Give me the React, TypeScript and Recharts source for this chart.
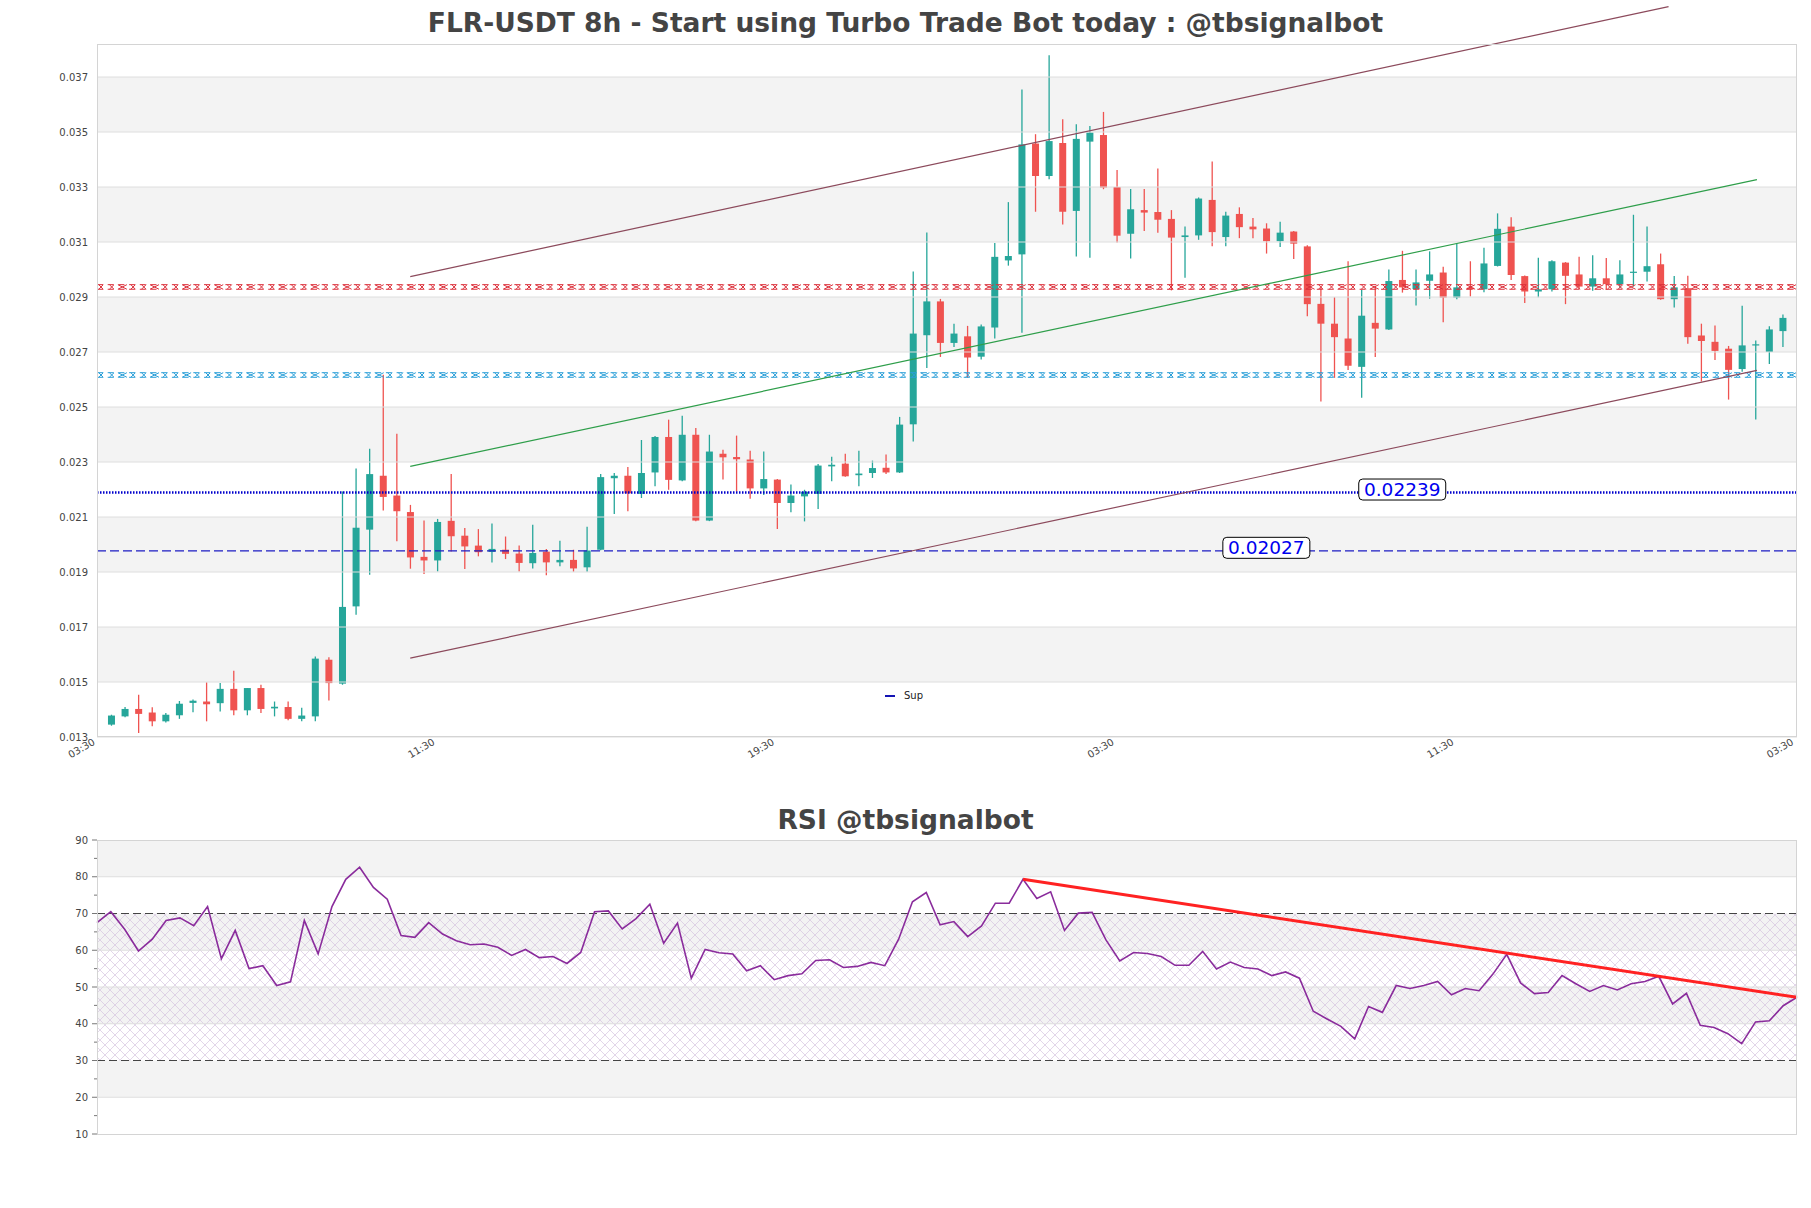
import React from 'react';
import {
  ComposedChart,
  Bar,
  Line,
  XAxis,
  YAxis,
  ReferenceLine,
  ReferenceArea,
  ReferenceDot,
} from 'recharts';

// ---- candles (8h) ----
const opens = [
  0.01395, 0.01425, 0.01452, 0.01439, 0.01407, 0.01429, 0.01474, 0.01479, 0.01473, 0.01525,
  0.01447, 0.01528, 0.01454, 0.01459, 0.01416, 0.01425, 0.01631, 0.01544, 0.01825, 0.02104,
  0.023, 0.02228, 0.02168, 0.02005, 0.01992, 0.02136, 0.02082, 0.02046, 0.02023, 0.02031,
  0.02017, 0.01982, 0.02024, 0.01985, 0.01994, 0.01967, 0.02031, 0.02291, 0.023, 0.02234,
  0.02312, 0.02441, 0.02283, 0.02449, 0.02137, 0.0238, 0.02368, 0.02359, 0.02254, 0.02286,
  0.02201, 0.02225, 0.02234, 0.02334, 0.02344, 0.02302, 0.0231, 0.02329, 0.02312, 0.02487,
  0.02811, 0.02934, 0.02783, 0.02807, 0.02733, 0.02839, 0.03083, 0.03105, 0.03508, 0.0339,
  0.0351, 0.03263, 0.03515, 0.03539, 0.0335, 0.0318, 0.03266, 0.03259, 0.03234, 0.03168,
  0.03174, 0.03303, 0.03168, 0.03252, 0.03206, 0.03199, 0.03153, 0.03188, 0.03134, 0.02925,
  0.02853, 0.02799, 0.02696, 0.02856, 0.02832, 0.03012, 0.02979, 0.03009, 0.03039, 0.02948,
  0.02984, 0.02978, 0.03063, 0.03206, 0.03026, 0.0297, 0.02978, 0.03075, 0.03032, 0.02988,
  0.03018, 0.02997, 0.03038, 0.03042, 0.03069, 0.02942, 0.02982, 0.0281, 0.02787, 0.02762,
  0.02688, 0.02774, 0.0275, 0.02826,
];
const highs = [
  0.01431, 0.01459, 0.01504, 0.01458, 0.01437, 0.01481, 0.01486, 0.01549, 0.01546, 0.01591,
  0.01528, 0.0154, 0.01479, 0.01479, 0.01456, 0.01643, 0.0164, 0.02243, 0.02326, 0.02398,
  0.02667, 0.02453, 0.02194, 0.02137, 0.02143, 0.02306, 0.0211, 0.02106, 0.02126, 0.02079,
  0.02046, 0.02122, 0.02034, 0.02064, 0.02031, 0.02115, 0.02306, 0.0231, 0.02332, 0.0243,
  0.02445, 0.02504, 0.02518, 0.02474, 0.02449, 0.02395, 0.02446, 0.02391, 0.02388, 0.02288,
  0.02268, 0.02249, 0.02343, 0.02369, 0.0238, 0.02391, 0.02355, 0.02377, 0.02514, 0.03043,
  0.03185, 0.02943, 0.02853, 0.02845, 0.0285, 0.03146, 0.03295, 0.03705, 0.03542, 0.03829,
  0.03596, 0.03578, 0.03572, 0.03623, 0.03412, 0.03343, 0.03343, 0.03417, 0.03266, 0.03206,
  0.03312, 0.03443, 0.0326, 0.03276, 0.03237, 0.03218, 0.03224, 0.0319, 0.03138, 0.02985,
  0.02949, 0.0308, 0.02976, 0.0299, 0.0305, 0.03118, 0.0305, 0.03116, 0.0306, 0.03144,
  0.0308, 0.03129, 0.03254, 0.0324, 0.03028, 0.03093, 0.03084, 0.03077, 0.03096, 0.03102,
  0.03092, 0.03084, 0.03249, 0.03206, 0.03108, 0.03026, 0.03027, 0.02853, 0.02846, 0.02772,
  0.02918, 0.02792, 0.02844, 0.02886,
];
const lows = [
  0.01391, 0.01422, 0.01365, 0.01389, 0.01403, 0.01416, 0.0144, 0.01407, 0.01443, 0.01429,
  0.01429, 0.01437, 0.01425, 0.01411, 0.01407, 0.01407, 0.01483, 0.0154, 0.01795, 0.0194,
  0.02174, 0.02062, 0.01962, 0.01943, 0.01952, 0.02025, 0.01961, 0.02007, 0.01985, 0.01997,
  0.01952, 0.01963, 0.01938, 0.01971, 0.01951, 0.01951, 0.02029, 0.02161, 0.02171, 0.02219,
  0.02262, 0.02249, 0.0228, 0.02135, 0.02135, 0.02286, 0.02243, 0.02216, 0.0223, 0.02106,
  0.02167, 0.02134, 0.02179, 0.0228, 0.02296, 0.02262, 0.02292, 0.02306, 0.0231, 0.02425,
  0.02692, 0.02732, 0.02768, 0.02657, 0.02723, 0.02799, 0.03064, 0.0282, 0.0326, 0.03378,
  0.03214, 0.03097, 0.03093, 0.03342, 0.03148, 0.0309, 0.0319, 0.03184, 0.02974, 0.0302,
  0.03158, 0.03135, 0.03135, 0.03164, 0.03164, 0.03108, 0.03132, 0.03088, 0.0288, 0.0257,
  0.02656, 0.02685, 0.02584, 0.02732, 0.0283, 0.02966, 0.02919, 0.02944, 0.02858, 0.02942,
  0.02952, 0.02967, 0.03061, 0.03012, 0.02928, 0.02949, 0.0297, 0.02924, 0.02979, 0.02973,
  0.02976, 0.02982, 0.02988, 0.03006, 0.0294, 0.02912, 0.0278, 0.02643, 0.02721, 0.02577,
  0.02678, 0.02505, 0.02706, 0.02768,
];
const closes = [
  0.01428, 0.01452, 0.01434, 0.01407, 0.01431, 0.01471, 0.01482, 0.01469, 0.01525, 0.01447,
  0.01528, 0.01452, 0.0146, 0.01416, 0.01428, 0.01635, 0.01546, 0.01823, 0.02111, 0.02306,
  0.02223, 0.02171, 0.02003, 0.01992, 0.02132, 0.0208, 0.02043, 0.02022, 0.02034, 0.02016,
  0.01983, 0.02019, 0.01985, 0.01994, 0.01963, 0.02028, 0.02295, 0.023, 0.02236, 0.0231,
  0.02441, 0.02285, 0.02449, 0.02137, 0.02388, 0.02367, 0.0236, 0.02254, 0.02288, 0.02201,
  0.02228, 0.02242, 0.02337, 0.0234, 0.02298, 0.02308, 0.02328, 0.02312, 0.02486, 0.02817,
  0.02934, 0.02783, 0.02817, 0.0273, 0.02843, 0.03096, 0.03099, 0.03505, 0.0339, 0.03517,
  0.0326, 0.03525, 0.03548, 0.03348, 0.03173, 0.03269, 0.03257, 0.03231, 0.03166, 0.03174,
  0.03308, 0.03186, 0.03246, 0.03204, 0.03196, 0.03153, 0.03184, 0.03144, 0.02924, 0.02853,
  0.02804, 0.027, 0.02882, 0.02835, 0.03008, 0.02985, 0.03003, 0.03032, 0.02948, 0.02985,
  0.02978, 0.03072, 0.03198, 0.0303, 0.0297, 0.02978, 0.0308, 0.03027, 0.02988, 0.03018,
  0.02997, 0.03032, 0.03042, 0.03062, 0.02942, 0.02985, 0.02804, 0.0279, 0.02754, 0.02685,
  0.02774, 0.02778, 0.02832, 0.02874,
];

const xTicks = [-1, 24, 49, 74, 99, 124];
const xTickLabels = ['03:30', '11:30', '19:30', '03:30', '11:30', '03:30'];

const priceTicks = [0.0135, 0.0155, 0.0175, 0.0195, 0.0215, 0.0235, 0.0255, 0.0275, 0.0295, 0.0315, 0.0335, 0.0355, 0.0375];
const priceTickLabels = ['0.013', '0.015', '0.017', '0.019', '0.021', '0.023', '0.025', '0.027', '0.029', '0.031', '0.033', '0.035', '0.037'];

// support / resistance levels
const resistanceLevel = 0.029865;
const midLevel = 0.026664;
const supStrong = 0.02239;
const supWeak = 0.02027;

// channel lines: [startIndex, startPrice, endIndex, endPrice]
const channelUpper = [22, 0.03024, 114.6, 0.04006];
const channelMid = [22, 0.02334, 121.1, 0.03377];
const channelLower = [22, 0.01637, 121.1, 0.02683];

// ---- RSI ----
const rsiValues = [
  67.5, 70.5, 65.7, 59.8, 63.0, 68.1, 68.8, 66.7, 71.9, 57.7,
  65.4, 55.0, 55.8, 50.4, 51.4, 68.1, 59.0, 71.9, 79.3, 82.6,
  77.1, 73.9, 64.0, 63.5, 67.5, 64.4, 62.6, 61.5, 61.7, 60.8,
  58.6, 60.2, 58.0, 58.3, 56.4, 59.4, 70.5, 70.7, 65.8, 68.6,
  72.5, 61.9, 67.4, 52.4, 60.2, 59.3, 59.0, 54.4, 55.8, 52.0,
  53.1, 53.6, 57.2, 57.4, 55.3, 55.6, 56.7, 55.8, 63.0, 73.2,
  75.7, 66.9, 67.8, 63.7, 66.6, 72.8, 72.8, 79.3, 74.1, 75.9,
  65.4, 70.1, 70.3, 62.8, 57.1, 59.4, 59.1, 58.3, 55.9, 55.9,
  59.7, 54.9, 56.8, 55.3, 54.9, 53.1, 54.1, 52.4, 43.4, 41.3,
  39.3, 35.9, 44.7, 43.1, 50.4, 49.6, 50.4, 51.5, 47.9, 49.6,
  49.0, 53.5, 58.9, 51.1, 48.2, 48.5, 53.1, 50.9, 48.8, 50.4,
  49.2, 50.9, 51.5, 52.9, 45.4, 48.3, 39.6, 39.0, 37.3, 34.6,
  40.5, 40.8, 44.9, 47.2,
];
const rsiTicks = [10, 15, 20, 25, 30, 35, 40, 45, 50, 55, 60, 65, 70, 75, 80, 85, 90];
const rsiTrend = [67, 79.3, 123, 47.2];

const candles = opens.map((o, i) => ({ i, open: o, high: highs[i], low: lows[i], close: closes[i] }));
const rsiData = rsiValues.map((rsi, i) => ({ i, rsi }));

const FONT = 'DejaVu Sans';

const Candle = (props: any) => {
  const { x, y, width, height, payload } = props;
  if (!payload || height == null) return null;
  const { open, close, high, low } = payload;
  const cx = x + width / 2;
  const toY = (p: number) => y + ((high - p) / (high - low)) * height;
  const color = close >= open ? '#26a69a' : '#ef5350';
  const top = toY(Math.max(open, close));
  const bot = toY(Math.min(open, close));
  return (
    <g>
      <line x1={cx} x2={cx} y1={y} y2={y + height} stroke={color} strokeWidth={1.3} />
      <rect x={cx - 3.5} y={top} width={7} height={Math.max(bot - top, 1.2)} fill={color} />
    </g>
  );
};

// level drawn as a chain of small x marks between two thin dashed rails
const chainShape = (color: string) => (p: any) => {
  const x1 = Math.min(p.x1, p.x2);
  const x2 = Math.max(p.x1, p.x2);
  const yc = p.y1;
  const h = 2.3;
  const marks = [];
  for (let x = x1 + 4, k = 0; x < x2 - 2; x += 10.7, k++) {
    const w = k % 3 === 2 ? 4.5 : 2.3;
    marks.push(
      <path key={k} d={`M${x - w},${yc - h} L${x + w},${yc + h} M${x - w},${yc + h} L${x + w},${yc - h}`} stroke={color} strokeWidth={1} fill="none" />
    );
  }
  return (
    <g>
      <line x1={x1} x2={x2} y1={yc - h} y2={yc - h} stroke={color} strokeWidth={1} strokeDasharray="6 4.7" />
      <line x1={x1} x2={x2} y1={yc + h} y2={yc + h} stroke={color} strokeWidth={1} strokeDasharray="6 4.7" />
      {marks}
    </g>
  );
};

const XTick = (props: any) => {
  const { x, y, payload } = props;
  const label = xTickLabels[xTicks.indexOf(payload.value)];
  const ax = x - 2;
  const ay = y + 7;
  return (
    <text x={ax} y={ay} transform={`rotate(-30, ${ax}, ${ay})`} textAnchor="end" fontSize={10} fill="#444" fontFamily={FONT}>
      {label}
    </text>
  );
};

const RsiTick = (props: any) => {
  const { x, y, payload } = props;
  const v = payload.value;
  const major = v % 10 === 0;
  const axisX = x + 9;
  return (
    <g>
      <line x1={axisX - (major ? 5 : 3)} x2={axisX} y1={y} y2={y} stroke="#777" strokeWidth={1} />
      {major && (
        <text x={x} y={y} dy="0.355em" textAnchor="end" fontSize={10} fill="#444" fontFamily={FONT}>
          {v}
        </text>
      )}
    </g>
  );
};

const LevelTag = ({ cx, cy, text }: { cx: number; cy: number; text: string }) => (
  <g>
    <rect x={cx - 43.5} y={cy - 13.5} width={87} height={21} rx={4} ry={4} fill="#fff" stroke="#000" strokeWidth={1} />
    <text x={cx} y={cy - 3} dy="0.36em" textAnchor="middle" fontSize={18.5} fill="#0000ee" fontFamily={FONT}>
      {text}
    </text>
  </g>
);

const seg = (l: number[]) => [
  { x: l[0], y: l[1] },
  { x: l[2], y: l[3] },
];

const priceBands = priceTicks
  .slice(1, -1)
  .filter((_, k) => k % 2 === 0)
  .map((t) => [t, priceTicks[priceTicks.indexOf(t) + 1]]);

export default function App() {
  return (
    <div style={{ position: 'absolute', left: 0, top: 0, width: 1811, height: 1208, background: '#fff', fontFamily: FONT }}>
      <div style={{ position: 'absolute', left: 0, top: 8, width: 1811, textAlign: 'center', fontSize: 26.5, lineHeight: '30px', fontWeight: 'bold', color: '#444' }}>
        FLR-USDT 8h - Start using Turbo Trade Bot today : @tbsignalbot
      </div>

      <div style={{ position: 'absolute', left: 0, top: 0 }}>
        <ComposedChart width={1811} height={800} data={candles} margin={{ top: 44, right: 14, bottom: 23, left: 37 }}>
          <XAxis
            dataKey="i"
            type="number"
            domain={[-1.05, 124.05]}
            allowDataOverflow
            ticks={xTicks}
            interval={0}
            axisLine={false}
            tickLine={false}
            tickSize={0}
            tickMargin={0}
            height={40}
            tick={XTick}
          />
          <YAxis
            type="number"
            domain={[0.0135, 0.0387]}
            allowDataOverflow
            ticks={priceTicks}
            interval={0}
            width={60}
            axisLine={false}
            tickLine={false}
            tickSize={0}
            tickMargin={9}
            tickFormatter={(v: number) => priceTickLabels[priceTicks.indexOf(v)]}
            tick={{ fontSize: 10, fill: '#444', fontFamily: FONT }}
          />
          {priceBands.map(([a, b]) => (
            <ReferenceArea key={`b${a}`} y1={a} y2={b} fill="#f3f3f3" fillOpacity={1} stroke="none" />
          ))}
          {priceTicks.map((t) => (
            <ReferenceLine key={`g${t}`} y={t} stroke="#dedede" strokeWidth={1} />
          ))}
          <ReferenceLine y={resistanceLevel} stroke="#dc2f3a" shape={chainShape('#dc2f3a')} />
          <ReferenceLine y={midLevel} stroke="#2a9fd8" shape={chainShape('#2a9fd8')} />
          <ReferenceLine y={supStrong} stroke="#0000cc" strokeWidth={2.4} strokeDasharray="1.5 1.5" />
          <ReferenceLine y={supWeak} stroke="#1c1cc4" strokeWidth={1.3} strokeDasharray="9 4" />
          <ReferenceLine segment={seg(channelUpper)} stroke="#8c4a5c" strokeWidth={1.2} ifOverflow="visible" />
          <ReferenceLine segment={seg(channelMid)} stroke="#2e9e4a" strokeWidth={1.2} ifOverflow="visible" />
          <ReferenceLine segment={seg(channelLower)} stroke="#8c4a5c" strokeWidth={1.2} ifOverflow="visible" />
          <Bar dataKey={(d: any) => [d.low, d.high]} shape={Candle} barSize={8} isAnimationActive={false} />
          <ReferenceDot x={95} y={supStrong} r={1} ifOverflow="visible" shape={(p: any) => <LevelTag cx={p.cx} cy={p.cy} text="0.02239" />} />
          <ReferenceDot x={85} y={supWeak} r={1} ifOverflow="visible" shape={(p: any) => <LevelTag cx={p.cx} cy={p.cy} text="0.02027" />} />
        </ComposedChart>
      </div>
      <div style={{ position: 'absolute', left: 97, top: 44, width: 1700, height: 693, border: '1px solid #d4d4d4', boxSizing: 'border-box', pointerEvents: 'none' }} />

      <div style={{ position: 'absolute', left: 885, top: 690, display: 'flex', alignItems: 'center', fontSize: 10, color: '#222' }}>
        <span style={{ display: 'inline-block', width: 10, height: 2, background: '#1414b4', marginRight: 9 }} />
        <span>Sup</span>
      </div>

      <div style={{ position: 'absolute', left: 0, top: 805, width: 1811, textAlign: 'center', fontSize: 26.5, lineHeight: '30px', fontWeight: 'bold', color: '#444' }}>
        RSI @tbsignalbot
      </div>

      <div style={{ position: 'absolute', left: 0, top: 790 }}>
        <ComposedChart width={1811} height={360} data={rsiData} margin={{ top: 50, right: 14, bottom: 16, left: 37 }}>
          <defs>
            <pattern id="rsiHatch" width={10} height={10} patternUnits="userSpaceOnUse">
              <path d="M0,0 L10,10 M10,0 L0,10" stroke="#d6c4e0" strokeWidth={0.7} />
            </pattern>
          </defs>
          <XAxis dataKey="i" type="number" domain={[0, 123]} hide />
          <YAxis
            type="number"
            domain={[10, 90]}
            ticks={rsiTicks}
            interval={0}
            width={60}
            axisLine={false}
            tickLine={false}
            tickSize={0}
            tickMargin={9}
            tick={RsiTick}
          />
          {[[80, 90], [60, 70], [40, 50], [20, 30]].map(([a, b]) => (
            <ReferenceArea key={`rb${a}`} y1={a} y2={b} fill="#f3f3f3" fillOpacity={1} stroke="none" />
          ))}
          <ReferenceArea y1={30} y2={70} fill="url(#rsiHatch)" fillOpacity={1} stroke="none" />
          {[20, 40, 50, 60, 80].map((t) => (
            <ReferenceLine key={`rg${t}`} y={t} stroke="#dedede" strokeWidth={1} />
          ))}
          <ReferenceLine y={70} stroke="#444" strokeWidth={1.2} strokeDasharray="8 4" />
          <ReferenceLine y={30} stroke="#444" strokeWidth={1.2} strokeDasharray="8 4" />
          <Line dataKey="rsi" stroke="#8a2c9c" strokeWidth={1.6} dot={false} isAnimationActive={false} />
          <ReferenceLine segment={seg(rsiTrend)} stroke="#ff2222" strokeWidth={3} ifOverflow="visible" />
        </ComposedChart>
      </div>
      <div style={{ position: 'absolute', left: 97, top: 840, width: 1700, height: 295, border: '1px solid #d4d4d4', boxSizing: 'border-box', pointerEvents: 'none' }} />
    </div>
  );
}
